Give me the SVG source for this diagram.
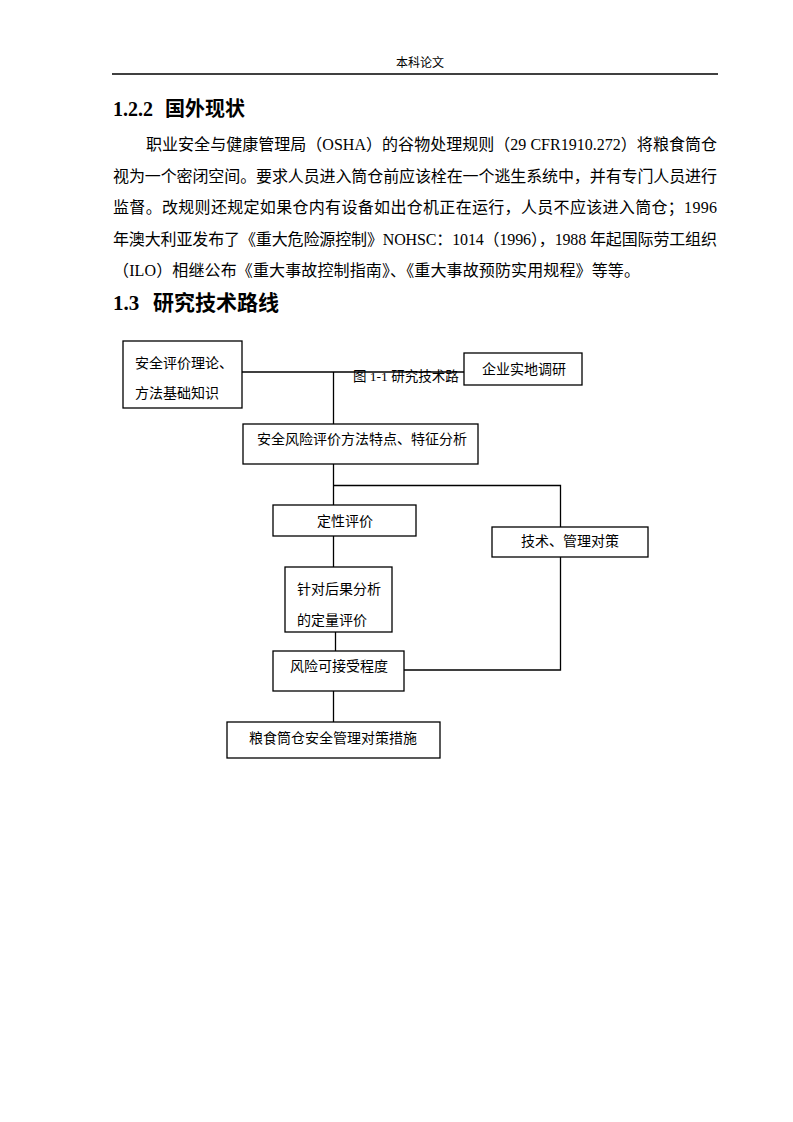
<svg xmlns="http://www.w3.org/2000/svg" width="793" height="1122" viewBox="0 0 793 1122">
<style>
.t{font-family:"Liberation Serif","Noto Sans CJK SC",serif;fill:#000}
.h{font-family:"Liberation Serif","Noto Sans CJK SC",sans-serif;font-weight:bold;fill:#000}
.p{font-size:16px}
.n rect{fill:#fff;stroke:#000;stroke-width:1.3}
.n text{font-family:"Liberation Serif","Noto Sans CJK SC",serif;font-size:14px;fill:#000}
.c path{fill:none;stroke:#000;stroke-width:1.3}
</style>
<rect width="793" height="1122" fill="#fff"/>
<text class="t" x="420" y="67" font-size="12" text-anchor="middle" fill="#222">本科论文</text>
<line x1="112" y1="74" x2="718" y2="74" stroke="#000" stroke-width="1.5"/>
<text class="h" x="113" y="116" font-size="20">1.2.2</text>
<text class="h" x="165" y="116" font-size="20">国外现状</text>
<text class="t p" x="146" y="150" textLength="571" lengthAdjust="spacing">职业安全与健康管理局（OSHA）的谷物处理规则（29 CFR1910.272）将粮食筒仓</text>
<text class="t p" x="113" y="182" textLength="604" lengthAdjust="spacing">视为一个密闭空间。要求人员进入筒仓前应该栓在一个逃生系统中，并有专门人员进行</text>
<text class="t p" x="113" y="213" textLength="604" lengthAdjust="spacing">监督。改规则还规定如果仓内有设备如出仓机正在运行，人员不应该进入筒仓；1996</text>
<text class="t p" x="113" y="245" textLength="604" lengthAdjust="spacing">年澳大利亚发布了《重大危险源控制》NOHSC：1014（1996），1988 年起国际劳工组织</text>
<text class="t p" x="113" y="276" textLength="527" lengthAdjust="spacing">（ILO）相继公布《重大事故控制指南》、《重大事故预防实用规程》等等。</text>
<text class="h" x="113" y="310" font-size="21">1.3</text>
<text class="h" x="153" y="310" font-size="21">研究技术路线</text>

<g class="c" id="connectors">
<path d="M242 372 H464"/>
<path d="M333.5 372 V424"/>
<path d="M333.5 464 V505"/>
<path d="M333.5 485.5 H560.5 V527"/>
<path d="M333.5 536 V567"/>
<path d="M335.5 632 V651"/>
<path d="M560.5 557 V670 H404"/>
<path d="M333.5 691 V722"/>
</g>

<text class="t" x="353" y="381" font-size="13.5" fill="#222">图 1-1  研究技术路</text>

<g class="n" id="n1"><rect x="123" y="341" width="119" height="67"/><text x="135" y="368">安全评价理论、</text><text x="135" y="398">方法基础知识</text></g>
<g class="n" id="n2"><rect x="464" y="353" width="118" height="32"/><text x="482" y="374">企业实地调研</text></g>
<g class="n" id="n3"><rect x="243" y="424" width="235" height="40"/><text x="257" y="444">安全风险评价方法特点、特征分析</text></g>
<g class="n" id="n4"><rect x="273" y="505" width="143" height="31"/><text x="317" y="526">定性评价</text></g>
<g class="n" id="n5"><rect x="492" y="527" width="156" height="30"/><text x="521" y="546">技术、管理对策</text></g>
<g class="n" id="n6"><rect x="285" y="567" width="107" height="65"/><text x="297" y="594">针对后果分析</text><text x="297" y="625">的定量评价</text></g>
<g class="n" id="n7"><rect x="273" y="651" width="131" height="40"/><text x="290" y="671">风险可接受程度</text></g>
<g class="n" id="n8"><rect x="227" y="722" width="213" height="36"/><text x="249" y="743">粮食筒仓安全管理对策措施</text></g>
</svg>
